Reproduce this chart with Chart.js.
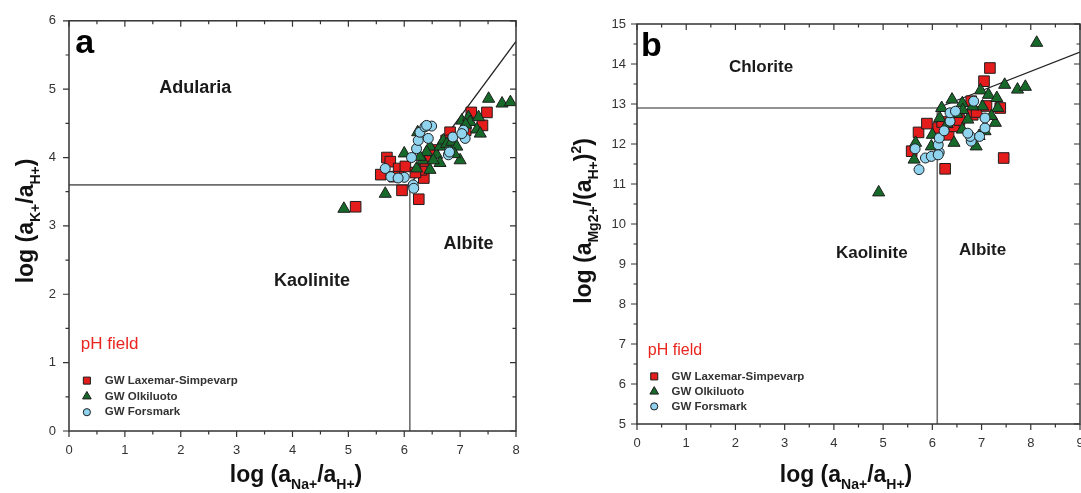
<!DOCTYPE html>
<html>
<head>
<meta charset="utf-8">
<title>Activity diagrams</title>
<script src="https://cdn.jsdelivr.net/npm/chart.js@4.4.0/dist/chart.umd.min.js"></script>
<style>
    html, body { margin: 0; padding: 0; background: #fff; overflow: hidden; }
    #wrap { position: relative; width: 1081px; height: 493px; overflow: hidden; }
    .panel { position: absolute; top: 0; height: 493px; }
    #panelA { left: 0; width: 540px; }
    #panelB { left: 540px; width: 560px; }
</style>
</head>
<body>
<div id="wrap">
    <div class="panel" id="panelA"><canvas id="chartA"></canvas></div>
    <div class="panel" id="panelB"><canvas id="chartB"></canvas></div>
</div>
<script>
/* ---------- data ---------- */

const seriesNames = ['GW Laxemar-Simpevarp', 'GW Olkiluoto', 'GW Forsmark'];

// panel a: log(aNa+/aH+) vs log(aK+/aH+)
const laxemarA = [
    [5.13, 3.28], [6.26, 3.39], [5.96, 3.52], [5.69, 4.00], [5.75, 3.94], [5.58, 3.75], [5.90, 3.84],
    [6.02, 3.87], [6.35, 3.70], [6.31, 3.82], [6.82, 4.37], [7.20, 4.66], [7.48, 4.66], [7.40, 4.47],
    [6.38, 3.95], [6.52, 4.11], [6.20, 3.78], [6.75, 4.25], [7.10, 4.40], [5.82, 3.72]
];
const olkiluotoA = [
    [4.92, 3.25], [5.66, 3.47], [6.00, 4.06], [6.24, 4.37], [6.22, 3.84], [6.33, 3.96], [6.46, 4.16],
    [6.46, 3.82], [6.58, 4.04], [6.64, 4.16], [6.64, 3.92], [6.70, 4.25], [6.76, 4.20], [6.85, 4.23],
    [6.94, 4.16], [7.00, 3.96], [7.03, 4.54], [7.15, 4.59], [7.18, 4.52], [7.30, 4.41], [7.33, 4.59],
    [7.36, 4.35], [7.51, 4.86], [7.75, 4.79], [7.90, 4.81], [6.40, 4.08], [6.52, 3.96], [6.28, 4.01],
    [7.10, 4.48], [6.90, 4.05]
];
const forsmarkA = [
    [5.66, 3.84], [5.76, 3.72], [6.00, 3.71], [6.13, 4.00], [6.16, 3.60], [6.17, 3.55], [6.22, 4.13],
    [6.25, 4.25], [6.28, 4.37], [6.37, 4.45], [6.49, 4.46], [6.43, 4.28], [6.79, 4.04], [6.81, 4.08],
    [6.87, 4.30], [7.06, 4.40], [7.09, 4.28], [7.03, 4.35], [5.89, 3.70], [6.40, 4.47]
];
const hLineA = [[0, 3.6], [6.1, 3.6]];
const vLineA = [[6.1, 0], [6.1, 3.6]];
const diagA = [[6.1, 3.6], [8, 5.7]];

// panel b: log(aNa+/aH+) vs log(aMg2+/(aH+)^2)
const laxemarB = [
    [7.17, 13.90], [7.05, 13.57], [7.45, 11.65], [6.26, 11.38], [5.72, 12.29], [5.89, 12.51], [5.58, 11.82],
    [6.12, 12.40], [6.33, 12.23], [6.44, 12.44], [6.82, 12.73], [6.79, 13.07], [7.38, 12.90], [6.90, 12.80],
    [6.55, 12.60], [7.10, 12.95], [6.20, 12.55]
];
const olkiluotoB = [
    [8.12, 14.53], [7.47, 13.48], [7.73, 13.36], [7.89, 13.43], [6.98, 13.34], [7.14, 13.23], [7.31, 13.15],
    [7.33, 12.90], [6.40, 13.11], [6.61, 13.02], [6.19, 12.90], [6.15, 12.65], [6.44, 12.03], [6.89, 11.94],
    [6.72, 12.61], [6.61, 12.36], [7.07, 12.32], [7.28, 12.53], [7.02, 12.94], [5.66, 12.03], [5.63, 11.61],
    [5.98, 11.94], [6.00, 12.23], [6.82, 12.94], [4.91, 10.79], [6.95, 12.20], [7.20, 12.70], [6.50, 12.75],
    [6.30, 12.50], [6.62, 12.85]
];
const forsmarkB = [
    [5.73, 11.36], [5.65, 11.88], [5.86, 11.65], [5.98, 11.69], [6.14, 11.79], [6.12, 11.98], [6.14, 12.15],
    [6.24, 12.33], [6.36, 12.57], [6.36, 12.78], [6.47, 12.82], [6.84, 13.07], [6.79, 12.07], [6.77, 12.19],
    [6.96, 12.19], [7.07, 12.40], [7.07, 12.65], [6.12, 11.73], [6.72, 12.27]
];
const hLineB = [[0, 12.9], [6.1, 12.9]];
const vLineB = [[6.1, 5], [6.1, 12.9]];
const diagB = [[6.1, 12.9], [9, 14.3]];

/* ---------- styling ---------- */

const FONT = 'Arial, "Liberation Sans", sans-serif';
const RED = '#e41c1c';
const GREEN = '#17692a';
const BLUE = '#8fd3ef';
const EDGE = '#1e1e1e';

const toXY = arr => arr.map(p => ({ x: p[0], y: p[1] }));

const lineDs = (pts, color, width) => ({
    data: toXY(pts), showLine: true, pointRadius: 0, borderColor: color,
    borderWidth: width, fill: false, order: 10
});

const pointDs = (label, pts, style, color, radius, order) => ({
    label, data: toXY(pts), pointStyle: style, pointRadius: radius,
    backgroundColor: color, borderColor: EDGE, borderWidth: 1, order
});

// draws a title made of normal / sub / superscript pieces, centred on (cx, cy)
function drawRich(ctx, parts, cx, cy, angle) {
    ctx.save();
    ctx.translate(cx, cy);
    ctx.rotate(angle);
    ctx.textAlign = 'left';
    ctx.textBaseline = 'alphabetic';
    ctx.fillStyle = '#111';
    let total = 0;
    parts.forEach(p => { ctx.font = `bold ${p[1]}px ${FONT}`; total += ctx.measureText(p[0]).width; });
    let x = -total / 2;
    parts.forEach(p => {
        ctx.font = `bold ${p[1]}px ${FONT}`;
        ctx.fillText(p[0], x, p[2]);
        x += ctx.measureText(p[0]).width;
    });
    ctx.restore();
}

const decorPlugin = {
    id: 'decor',
    afterDraw(chart, args, o) {
        const { ctx, chartArea: a, scales: { x, y } } = chart;
        ctx.save();

        // frame + ticks (outward on bottom/left, inward on top/right)
        ctx.strokeStyle = '#333';
        ctx.lineWidth = 1.5;
        ctx.strokeRect(a.left, a.top, a.right - a.left, a.bottom - a.top);
        ctx.lineWidth = 1.2;
        ctx.beginPath();
        for (let v = x.min; v <= x.max + 1e-9; v += 0.5) {
            const px = x.getPixelForValue(v);
            const len = Number.isInteger(v) ? 6 : 3.5;
            ctx.moveTo(px, a.bottom); ctx.lineTo(px, a.bottom + len);
            ctx.moveTo(px, a.top); ctx.lineTo(px, a.top + len);
        }
        for (let v = y.min; v <= y.max + 1e-9; v += 0.5) {
            const py = y.getPixelForValue(v);
            const len = Number.isInteger(v) ? 6 : 3.5;
            ctx.moveTo(a.left, py); ctx.lineTo(a.left - len, py);
            ctx.moveTo(a.right, py); ctx.lineTo(a.right - len, py);
        }
        ctx.stroke();

        // panel letter
        ctx.fillStyle = '#000';
        ctx.textAlign = 'left';
        ctx.textBaseline = 'alphabetic';
        ctx.font = `bold ${o.letter.size}px ${FONT}`;
        ctx.fillText(o.letter.text, x.getPixelForValue(o.letter.x), y.getPixelForValue(o.letter.y));

        // field names
        ctx.fillStyle = '#1a1a1a';
        ctx.textAlign = 'center';
        ctx.textBaseline = 'middle';
        ctx.font = `bold ${o.fieldSize}px ${FONT}`;
        o.fields.forEach(f => ctx.fillText(f[0], x.getPixelForValue(f[1]), y.getPixelForValue(f[2])));

        // pH field note
        ctx.fillStyle = '#e8251f';
        ctx.textAlign = 'left';
        ctx.font = `${o.ph.size}px ${FONT}`;
        ctx.fillText('pH field', x.getPixelForValue(o.ph.x), y.getPixelForValue(o.ph.y));

        // legend
        const marks = chart.data.datasets.filter(d => d.label);
        ctx.font = `bold 11.5px ${FONT}`;
        marks.forEach((d, i) => {
            const mx = x.getPixelForValue(o.legend.mx);
            const my = y.getPixelForValue(o.legend.rows[i]);
            ctx.fillStyle = d.backgroundColor;
            ctx.strokeStyle = EDGE;
            ctx.lineWidth = 1;
            Chart.helpers.drawPoint(ctx, { pointStyle: d.pointStyle, radius: [5, 5, 3.6][i], rotation: 0, borderWidth: 1 }, mx, my);
            ctx.fillStyle = '#333';
            ctx.fillText(d.label, x.getPixelForValue(o.legend.tx), my);
        });

        // axis titles
        drawRich(ctx, o.xTitle.parts, o.xTitle.cx, o.xTitle.cy, 0);
        drawRich(ctx, o.yTitle.parts, o.yTitle.cx, o.yTitle.cy, -Math.PI / 2);

        ctx.restore();
    }
};

function makeChart(id, p) {
    const tickFont = { family: FONT, size: 13 };
    return new Chart(document.getElementById(id), {
        type: 'scatter',
        data: {
            datasets: [
                lineDs(p.hLine, '#6e6e6e', 1.6),
                lineDs(p.vLine, '#6e6e6e', 1.6),
                lineDs(p.diag, '#222', 1.3),
                pointDs(seriesNames[0], p.lax, 'rect', RED, 7.5, 3),
                pointDs(seriesNames[1], p.olk, 'triangle', GREEN, 7, 2),
                pointDs(seriesNames[2], p.fors, 'circle', BLUE, 5, 1)
            ]
        },
        options: {
            animation: false,
            responsive: true,
            maintainAspectRatio: false,
            layout: { padding: p.padding },
            plugins: { legend: { display: false }, tooltip: { enabled: false }, decor: p.decor },
            scales: {
                x: {
                    type: 'linear', min: p.xMin, max: p.xMax,
                    afterFit: s => { s.height = p.xHeight; },
                    grid: { display: false, drawTicks: false }, border: { display: false },
                    ticks: { stepSize: 1, padding: 12, font: tickFont, color: '#333', maxRotation: 0 }
                },
                y: {
                    type: 'linear', min: p.yMin, max: p.yMax,
                    afterFit: s => { s.width = p.yWidth; },
                    grid: { display: false, drawTicks: false }, border: { display: false },
                    ticks: { stepSize: 1, padding: p.yPad, font: tickFont, color: '#333' }
                }
            }
        },
        plugins: [decorPlugin]
    });
}

makeChart('chartA', {
    lax: laxemarA, olk: olkiluotoA, fors: forsmarkA,
    hLine: hLineA, vLine: vLineA, diag: diagA,
    xMin: 0, xMax: 8, yMin: 0, yMax: 6,
    padding: { left: 0, top: 13, right: 24, bottom: 0 },
    xHeight: 62, yWidth: 69, yPad: 13,
    decor: {
        letter: { text: 'a', size: 34, x: 0.11, y: 5.53 },
        fieldSize: 18,
        fields: [['Adularia', 2.26, 5.01], ['Kaolinite', 4.35, 2.19], ['Albite', 7.15, 2.73]],
        ph: { x: 0.21, y: 1.27, size: 17 },
        legend: { mx: 0.32, tx: 0.64, rows: [0.737, 0.506, 0.275] },
        xTitle: { cx: 296, cy: 482, parts: [['log (a', 23, 0], ['Na+', 14, 7], ['/a', 23, 0], ['H+', 14, 7], [')', 23, 0]] },
        yTitle: { cx: 33, cy: 221, parts: [['log (a', 23, 0], ['K+', 14, 7], ['/a', 23, 0], ['H+', 14, 7], [')', 23, 0]] }
    }
});

makeChart('chartB', {
    lax: laxemarB, olk: olkiluotoB, fors: forsmarkB,
    hLine: hLineB, vLine: vLineB, diag: diagB,
    xMin: 0, xMax: 9, yMin: 5, yMax: 15,
    padding: { left: 0, top: 24, right: 20, bottom: 0 },
    xHeight: 69, yWidth: 97, yPad: 11,
    decor: {
        letter: { text: 'b', size: 34, x: 0.08, y: 14.19 },
        fieldSize: 17,
        fields: [['Chlorite', 2.52, 13.91], ['Kaolinite', 4.77, 9.26], ['Albite', 7.02, 9.33]],
        ph: { x: 0.22, y: 6.84, size: 16 },
        legend: { mx: 0.35, tx: 0.70, rows: [6.19, 5.81, 5.44] },
        xTitle: { cx: 306, cy: 482, parts: [['log (a', 23, 0], ['Na+', 14, 7], ['/a', 23, 0], ['H+', 14, 7], [')', 23, 0]] },
        yTitle: { cx: 51, cy: 221, parts: [['log (a', 23, 0], ['Mg2+', 14, 7], ['/(a', 23, 0], ['H+', 14, 7], [')', 23, 0], ['2', 14, -10], [')', 23, 0]] }
    }
});
</script>
</body>
</html>
